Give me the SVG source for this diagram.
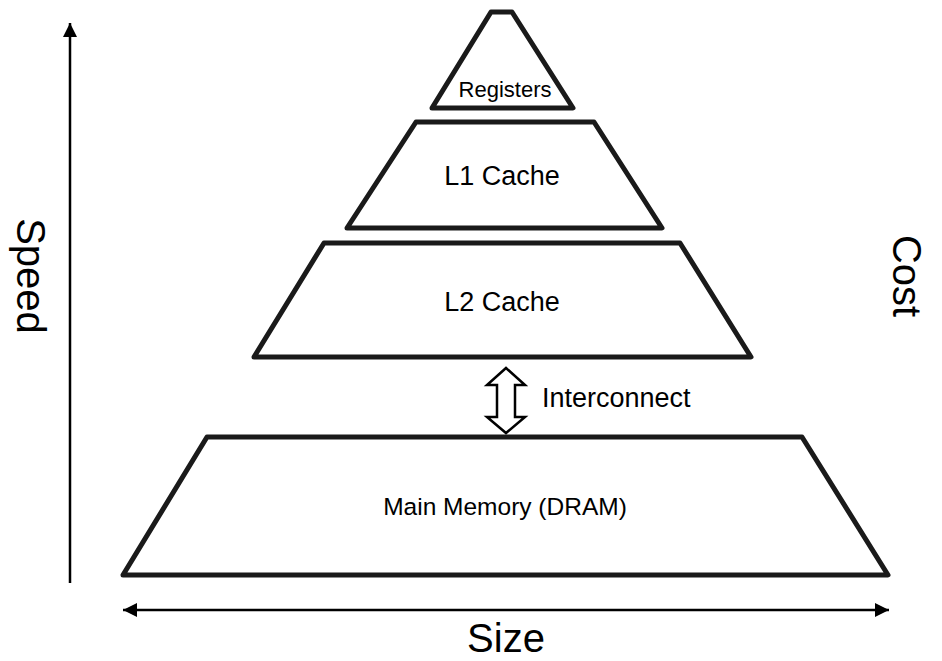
<svg xmlns="http://www.w3.org/2000/svg" width="942" height="661" viewBox="0 0 942 661">
<style>
.tier{fill:#fff;stroke:#1a1a1a;stroke-width:5;stroke-linejoin:round}
.lbl{font-family:"Liberation Sans",Arial,sans-serif;fill:#000}
.axis{stroke:#000;stroke-width:2.5;fill:none}
</style>
<defs>
<marker id="ah" viewBox="0 0 10 10" refX="10" refY="5" markerUnits="userSpaceOnUse" markerWidth="15" markerHeight="14" orient="auto-start-reverse">
<path d="M0,0 L10,5 L0,10 Z" fill="#000"/>
</marker>
</defs>
<rect width="942" height="661" fill="#fff"/>
<g id="registers">
<polygon class="tier" points="432,108 491,12 512,12 573,108"/>
<text class="lbl" x="505" y="97" font-size="22" text-anchor="middle">Registers</text>
</g>
<g id="l1cache">
<polygon class="tier" points="347,228 416,122 594,122 662,228"/>
<text class="lbl" x="502" y="185" font-size="27" text-anchor="middle">L1 Cache</text>
</g>
<g id="l2cache">
<polygon class="tier" points="254,357 324,243 680,243 751,357"/>
<text class="lbl" x="502" y="311" font-size="27" text-anchor="middle">L2 Cache</text>
</g>
<g id="mainmemory">
<polygon class="tier" points="123,575 207,437 802,437 888,575"/>
<text class="lbl" x="505" y="515" font-size="24.5" text-anchor="middle">Main Memory (DRAM)</text>
</g>
<g id="connectors">
<polygon id="interconnect-arrow" points="506,368 525,385 515,385 515,417 525,417 506,433 487,417 497,417 497,385 487,385" fill="#fff" stroke="#000" stroke-width="2.5" stroke-linejoin="miter"/>
<line class="axis" x1="70" y1="583" x2="70" y2="23" marker-end="url(#ah)"/>
<line class="axis" x1="123" y1="610" x2="889" y2="610" marker-start="url(#ah)" marker-end="url(#ah)"/>
</g>
<g id="labels">
<text class="lbl" x="542" y="407" font-size="27">Interconnect</text>
<text class="lbl" font-size="40" text-anchor="middle" transform="translate(17,276) rotate(90)">Speed</text>
<text class="lbl" font-size="40" text-anchor="middle" transform="translate(893,276) rotate(90)">Cost</text>
<text class="lbl" x="506" y="652" font-size="40" text-anchor="middle">Size</text>
</g>
</svg>
